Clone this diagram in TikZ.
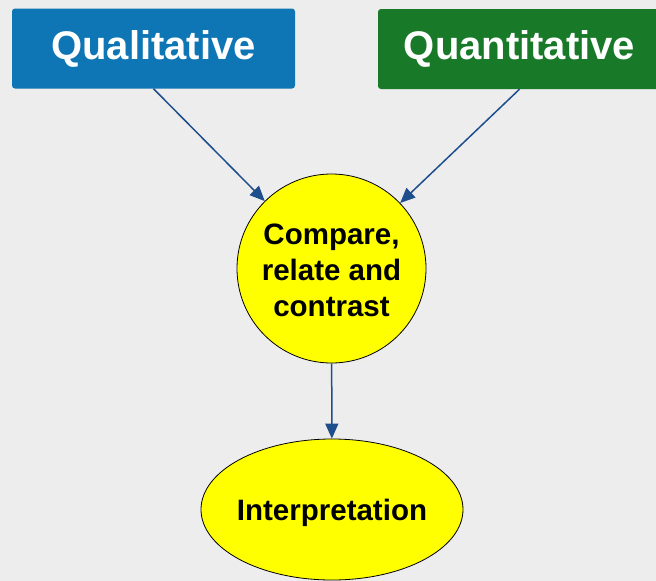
\documentclass[tikz,border=0pt]{standalone}
\usepackage{fontspec}
\setmainfont{Liberation Sans}
\usetikzlibrary{arrows.meta,shapes.geometric}
\definecolor{bgc}{HTML}{EDEDED}
\definecolor{qblue}{HTML}{0E76B5}
\definecolor{qgreen}{HTML}{187A28}
\definecolor{arrc}{HTML}{1F4E8C}
\definecolor{yel}{HTML}{FFFF00}
\tikzset{
  topbox/.style={rounded corners=3pt, minimum width=283pt, minimum height=80pt, inner sep=0pt,
    text=white, font=\bfseries\fontsize{40}{48}\selectfont},
  yellownode/.style={fill=yel, draw=black, line width=0.8pt, inner sep=0pt, align=center,
    font=\bfseries\fontsize{29.5}{36}\selectfont},
  conn/.style={draw=arrc, line width=1.5pt, -{Triangle[length=15pt,width=13pt]}}
}
\begin{document}
\begin{tikzpicture}[x=1pt,y=-1pt]
\useasboundingbox (0,0) rectangle (656,581);
\fill[bgc] (0,0) rectangle (656,581);
\node[topbox, fill=qblue] (ql) at (153.5,48.5) {Qualitative};
\node[topbox, fill=qgreen] (qn) at (519.5,49) {Quantitative};
\node[yellownode, circle, minimum size=189pt] (c) at (331.5,268.5) {\rule{0pt}{23.5pt}Compare,\\relate and\\contrast};
\node[yellownode, ellipse, minimum width=262pt, minimum height=141pt, inner xsep=-4pt, text height=21pt, text depth=0pt] (i) at (332,509.5) {Interpretation};
\draw[conn] (ql.south) -- (c);
\draw[conn] (qn.south) -- (c);
\draw[conn] (c) -- (i);
\end{tikzpicture}
\end{document}
